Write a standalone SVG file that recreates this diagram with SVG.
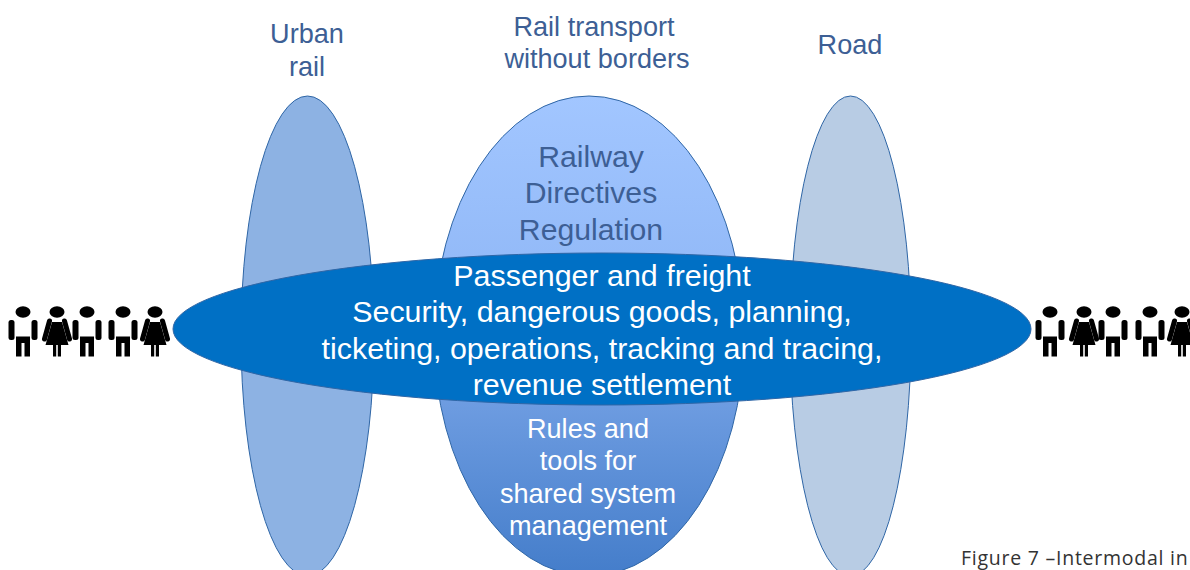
<svg xmlns="http://www.w3.org/2000/svg" width="1190" height="570" viewBox="0 0 1190 570">
<style>
text{font-family:"Liberation Sans",Arial,sans-serif;text-anchor:middle}
.o{stroke:#2f66a6;stroke-width:1}
.d{fill:#3d5f95;font-size:27.100px}
.c{fill:#3d5f95;font-size:30.200px}
.w{fill:#fff;font-size:27.100px}
.m{fill:#fff;font-size:30.400px}
.p{filter:url(#b)}
</style>
<defs>
<filter id="b" x="-5%" y="-10%" width="110%" height="120%"><feGaussianBlur stdDeviation="0.500"/></filter>
<linearGradient id="g" x1="0" y1="0" x2="0" y2="1">
<stop offset="0" stop-color="#a2c6ff"/><stop offset="0.35" stop-color="#93baf8"/><stop offset="0.65" stop-color="#6c9be0"/><stop offset="1" stop-color="#447dca"/>
</linearGradient>
<g id="man"><ellipse cx="0" cy="312" rx="7.500" ry="5.800"/><rect x="-14.500" y="320" width="6" height="20" rx="2.500"/><rect x="8.500" y="320" width="6" height="20" rx="2.500"/><path d="M-7 336.500H7V356.500H1.500V343H-1.500V356.500H-7Z"/></g>
<g id="woman"><ellipse cx="0" cy="312" rx="7.500" ry="5.800"/><path d="M-5 322H5L11.500 345H4V356.500H0.800V345H-0.800V356.500H-4V345H-11.500Z"/><path d="M-7.500 321L-12.500 339" stroke="#000" stroke-width="5" stroke-linecap="round" fill="none"/><path d="M7.500 321L12.500 339" stroke="#000" stroke-width="5" stroke-linecap="round" fill="none"/></g>
</defs>
<rect width="1190" height="570" fill="#fff"/>
<g id="urban-rail"><ellipse class="o" cx="307.500" cy="336" rx="66.500" ry="240" fill="#8db2e3"/><text class="d" x="307" y="43">Urban</text><text class="d" x="307" y="76">rail</text></g>
<g id="road"><ellipse class="o" cx="850.500" cy="336" rx="60.500" ry="240" fill="#b8cce4"/><text class="d" x="850" y="54">Road</text></g>
<g id="rail-transport"><ellipse class="o" cx="589" cy="336" rx="155" ry="240" fill="url(#g)"/>
<text class="d" x="594" y="36">Rail transport</text><text class="d" x="597" y="68">without borders</text>
<text class="c" x="591" y="167">Railway</text><text class="c" x="591" y="203">Directives</text><text class="c" x="591" y="240">Regulation</text>
<text class="w" x="588" y="438">Rules and</text><text class="w" x="588" y="470">tools for</text><text class="w" x="588" y="503">shared system</text><text class="w" x="588" y="535">management</text></g>
<g id="passenger-freight"><ellipse class="o" cx="602" cy="329" rx="429" ry="76" fill="#0070c5"/>
<text class="m" x="602" y="286">Passenger and freight</text><text class="m" x="602" y="322">Security, dangerous goods, planning,</text><text class="m" x="602" y="359">ticketing, operations, tracking and tracing,</text><text class="m" x="602" y="395">revenue settlement</text></g>
<g id="people-left" class="p"><use href="#man" x="23"/><use href="#woman" x="57"/><use href="#man" x="87"/><use href="#man" x="123"/><use href="#woman" x="155"/></g>
<g id="people-right" class="p"><use href="#man" x="1050"/><use href="#woman" x="1084"/><use href="#man" x="1113"/><use href="#man" x="1150"/><use href="#woman" x="1182"/></g>
<g id="connectors"></g>
<text x="961" y="564.500" style="font-family:'Open Sans',sans-serif;text-anchor:start;font-size:19.500px;letter-spacing:0.750px" fill="#333">Figure 7 –Intermodal in</text>
</svg>
